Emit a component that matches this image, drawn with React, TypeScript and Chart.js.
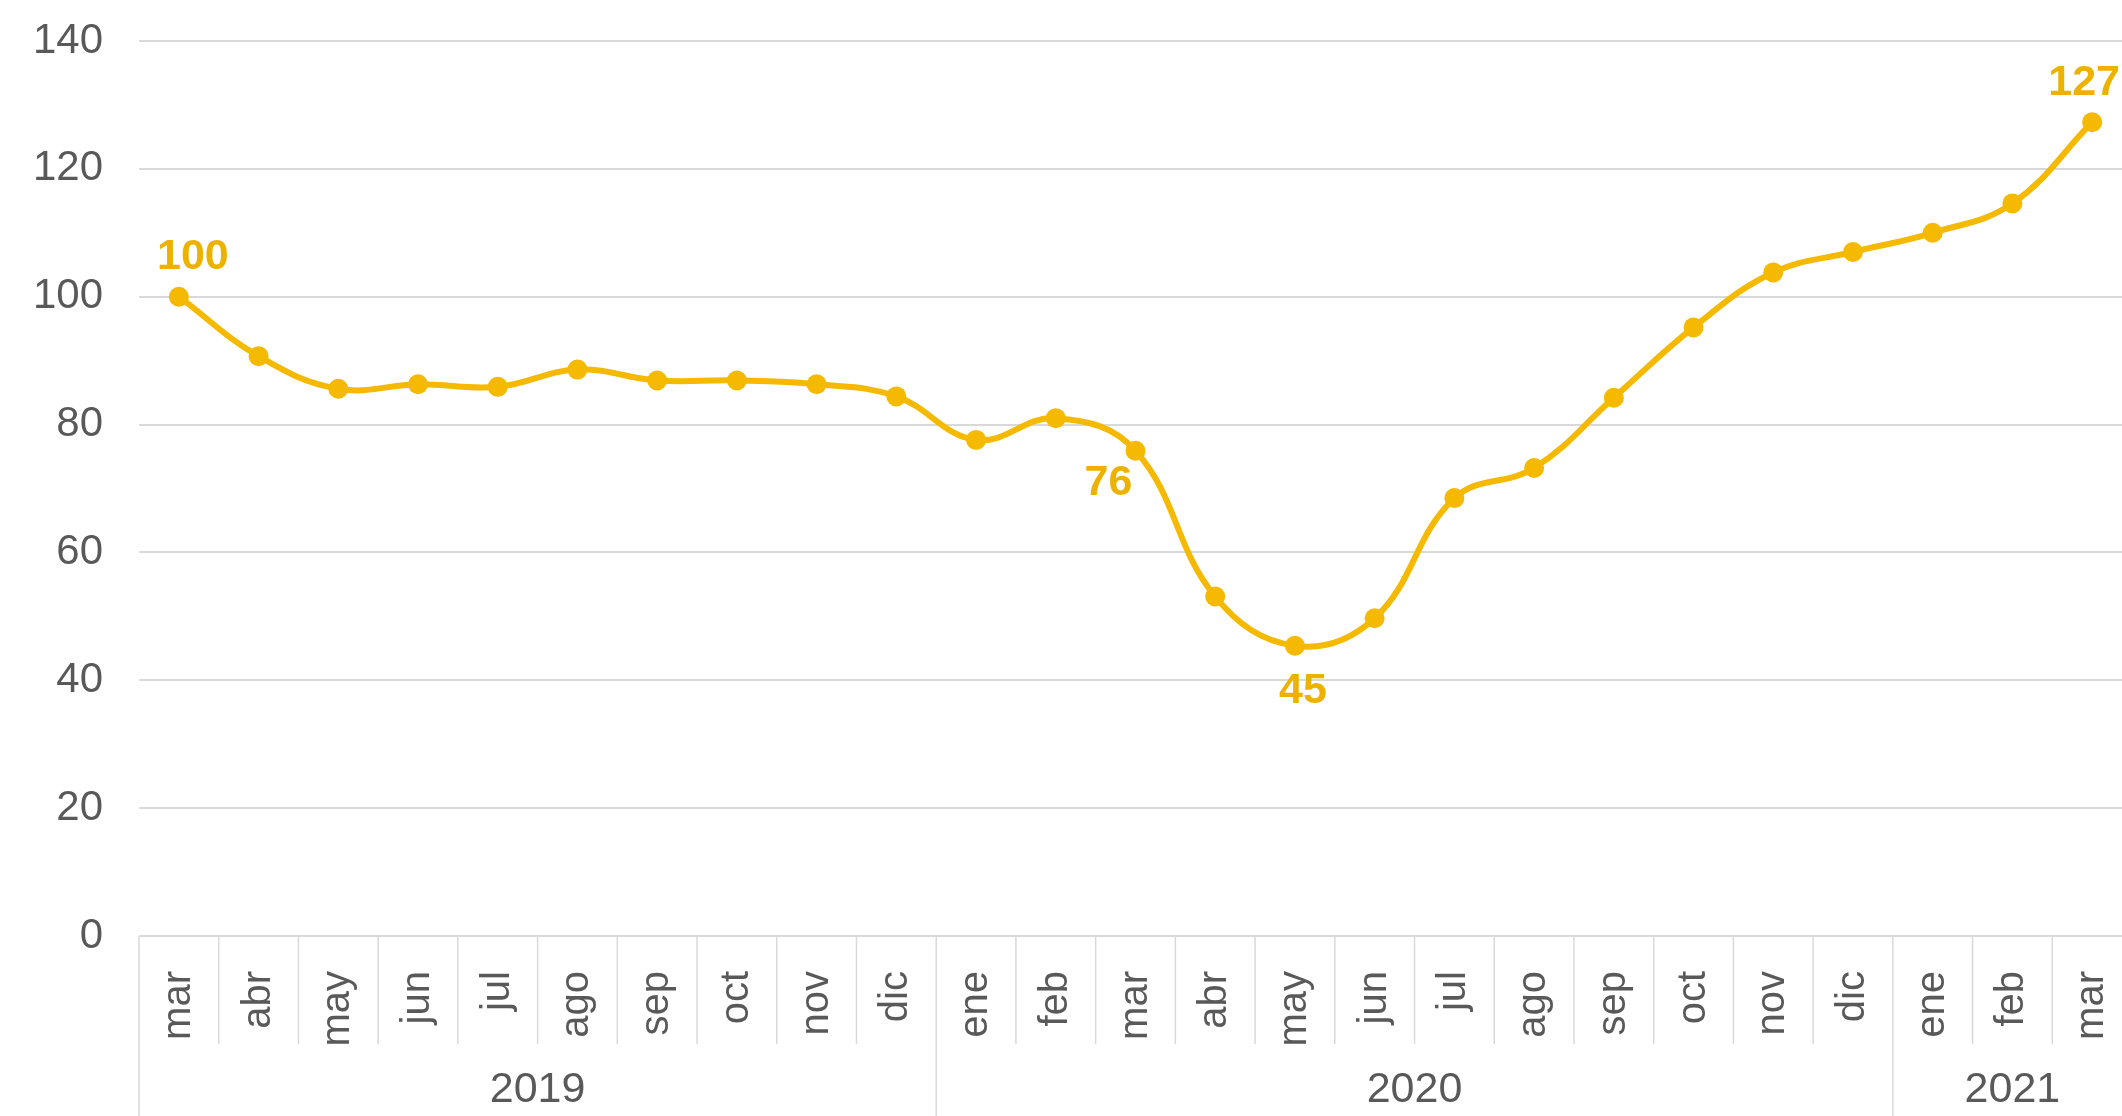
import React, { useEffect, useRef } from "react";
import { Chart, registerables } from "chart.js";

Chart.register(...registerables);

const months = ["mar","abr","may","jun","jul","ago","sep","oct","nov","dic","ene","feb","mar","abr","may","jun","jul","ago","sep","oct","nov","dic","ene","feb","mar"];
const years = ["2019","2019","2019","2019","2019","2019","2019","2019","2019","2019","2020","2020","2020","2020","2020","2020","2020","2020","2020","2020","2020","2020","2021","2021","2021"];
const values = [100, 90.7, 85.6, 86.3, 85.9, 88.6, 86.9, 86.9, 86.3, 84.4, 77.6, 81.0, 75.9, 53.1, 45.4, 49.7, 68.5, 73.2, 84.2, 95.2, 103.8, 107.0, 110.0, 114.6, 127.3];
const labelledPoints = [0, 12, 14, 24];
const yTicks = [0, 20, 40, 60, 80, 100, 120, 140];

const LINE = "#F5B900";
const LABEL = "#EDB200";
const TEXT = "#595959";
const GRID = "#d9d9d9";
const FONT = "'Liberation Sans', Arial, sans-serif";

export default function App() {
  const ref = useRef<HTMLCanvasElement | null>(null);
  useEffect(() => {
    const canvas = ref.current!;
    const offsets: Record<number, [number, number]> = {
      0: [14, -40],
      12: [-27, 32],
      14: [8, 45],
      24: [-8, -39],
    };
    const overlay = {
      id: "overlay",
      afterDraw(chart: any) {
        const ctx = chart.ctx;
        const xs = chart.scales.x;
        const ys = chart.scales.y;
        const n = months.length;
        const step = xs.getPixelForValue(1) - xs.getPixelForValue(0);
        const axisY = ys.getPixelForValue(0);
        const bottom = chart.height;
        ctx.save();
        ctx.strokeStyle = GRID;
        ctx.lineWidth = 1.5;
        for (let i = 0; i <= n; i++) {
          const bx = xs.getPixelForValue(0) + (i - 0.5) * step;
          const yearEdge = i === 0 || i === n || years[i] !== years[i - 1];
          ctx.beginPath();
          ctx.moveTo(bx, axisY);
          ctx.lineTo(bx, yearEdge ? bottom : axisY + 108);
          ctx.stroke();
        }
        ctx.fillStyle = TEXT;
        ctx.font = `43px ${FONT}`;
        ctx.textAlign = "center";
        ctx.textBaseline = "middle";
        let start = 0;
        for (let i = 1; i <= n; i++) {
          if (i === n || years[i] !== years[start]) {
            const x0 = xs.getPixelForValue(start) - step / 2;
            const x1 = xs.getPixelForValue(i - 1) + step / 2;
            ctx.fillText(years[start], (x0 + x1) / 2, axisY + 154);
            start = i;
          }
        }
        ctx.fillStyle = LABEL;
        ctx.font = `bold 43px ${FONT}`;
        for (const idx of labelledPoints) {
          const px = xs.getPixelForValue(idx);
          const py = ys.getPixelForValue(values[idx]);
          const [dx, dy] = offsets[idx] || [0, -38];
          ctx.fillText(String(Math.round(values[idx])), px + dx, py + dy);
        }
        ctx.restore();
      },
    };
    const chart = new Chart(canvas, {
      type: "line",
      data: {
        labels: months,
        datasets: [
          {
            data: values,
            borderColor: LINE,
            backgroundColor: LINE,
            borderWidth: 6,
            pointRadius: 10,
            pointBackgroundColor: LINE,
            pointBorderWidth: 0,
            tension: 0.4,
            fill: false,
          },
        ],
      },
      options: {
        animation: false,
        responsive: false,
        maintainAspectRatio: false,
        layout: { autoPadding: false, padding: { top: 41, left: 0, right: 0, bottom: 0 } },
        plugins: { legend: { display: false }, tooltip: { enabled: false } },
        scales: {
          x: {
            type: "category",
            offset: true,
            grid: { display: false },
            border: { display: false },
            ticks: {
              minRotation: 90,
              maxRotation: 90,
              autoSkip: false,
              padding: 27,
              color: TEXT,
              font: { family: FONT, size: 40 },
            },
            afterFit: (s: any) => {
              s.height = 180;
              s.paddingLeft = 0;
              s.paddingRight = 0;
            },
          },
          y: {
            min: 0,
            max: 140,
            afterBuildTicks: (s: any) => {
              s.ticks = yTicks.map((v) => ({ value: v }));
            },
            grid: { color: GRID, lineWidth: 2, drawTicks: false },
            border: { display: false },
            ticks: {
              padding: 36,
              color: TEXT,
              font: { family: FONT, size: 42 },
            },
            afterFit: (s: any) => {
              s.width = 139;
              s.paddingTop = 0;
              s.paddingBottom = 0;
            },
          },
        },
      },
      plugins: [overlay],
    });
    return () => chart.destroy();
  }, []);
  return (
    <div style={{ position: "absolute", left: 0, top: 0, width: 2122, height: 1116, overflow: "hidden", background: "#fff" }}>
      <canvas ref={ref} width={2132} height={1116} style={{ width: 2132, height: 1116, display: "block" }} />
    </div>
  );
}
